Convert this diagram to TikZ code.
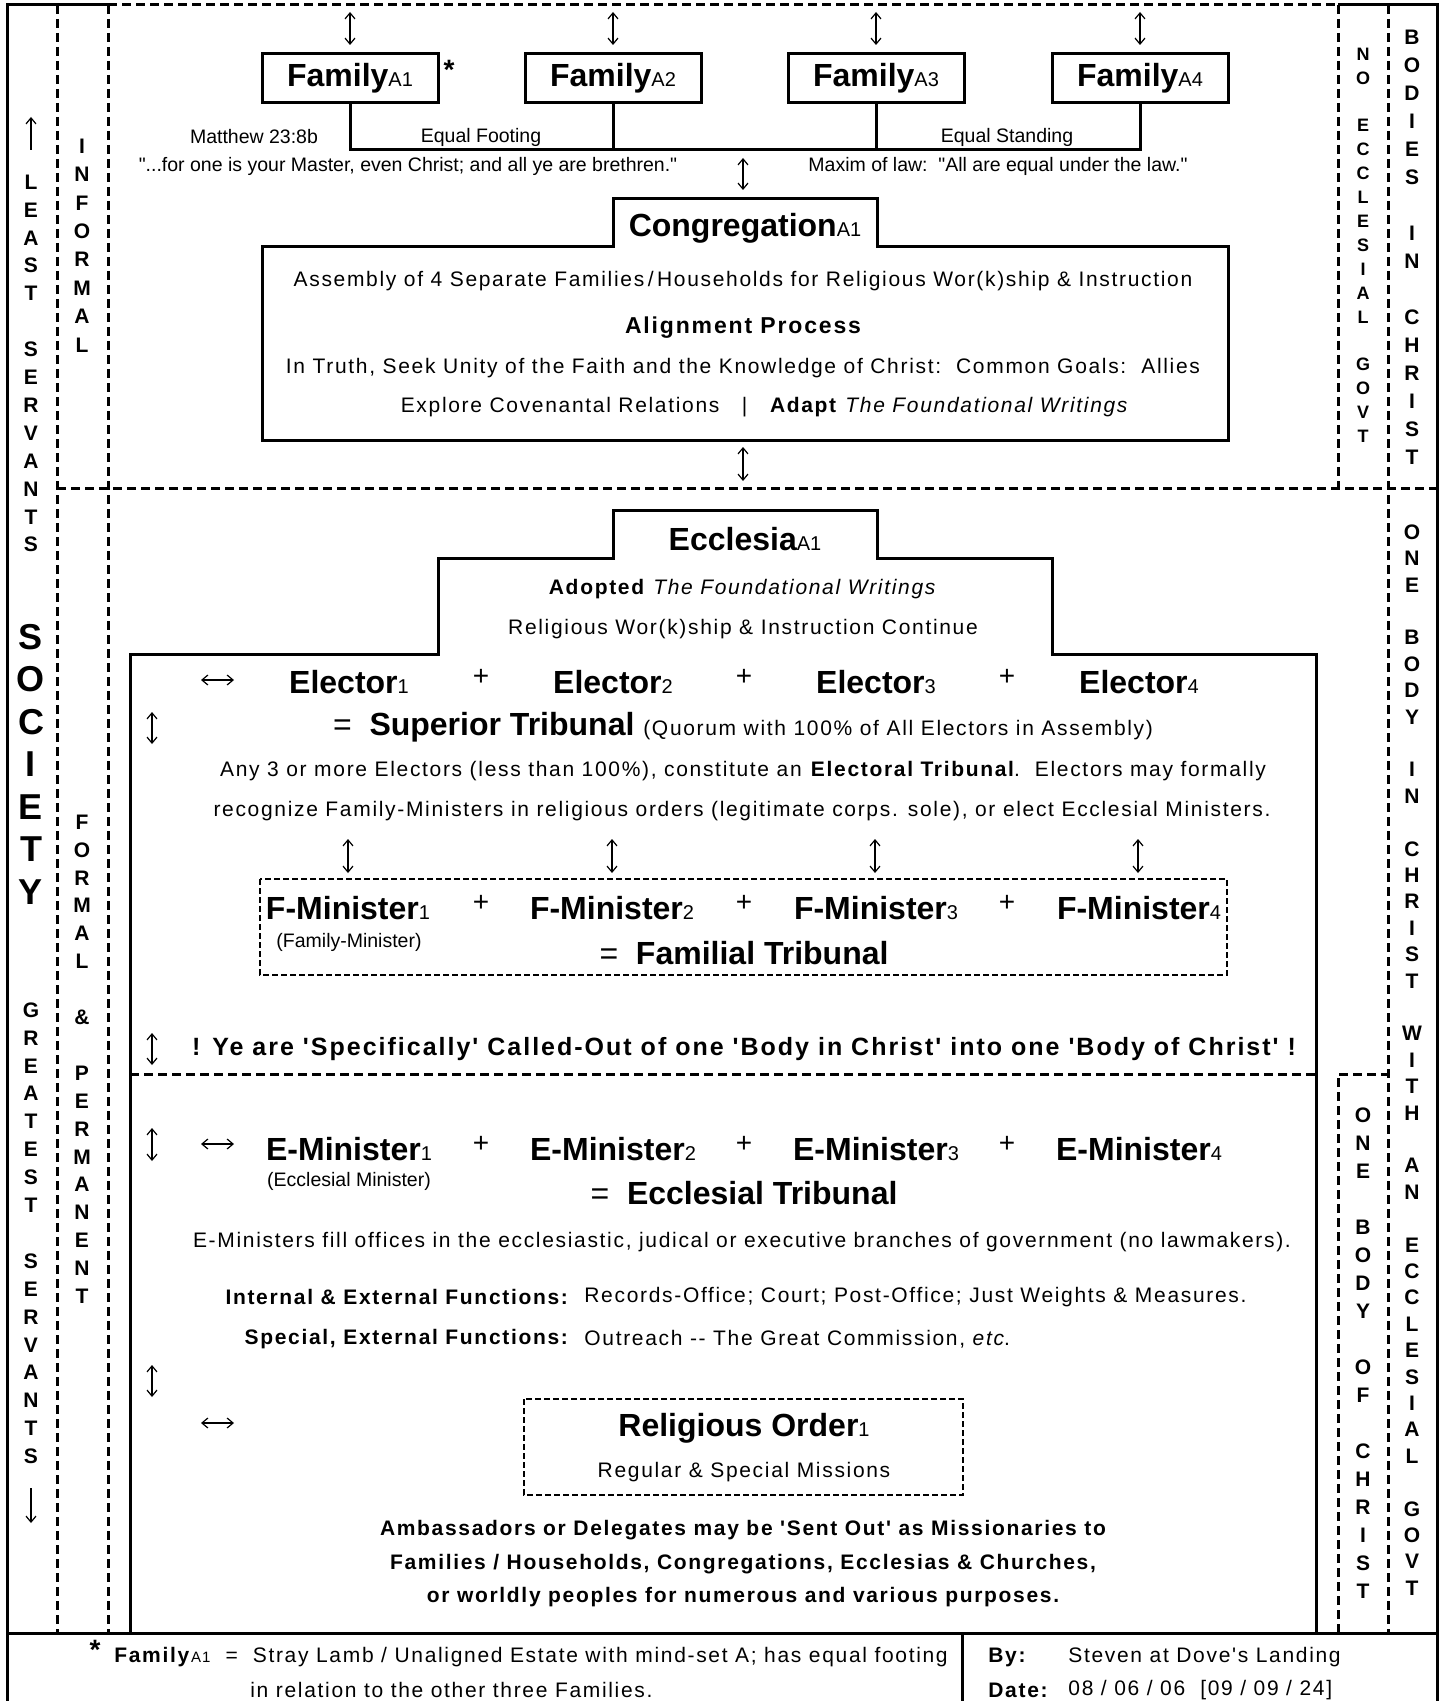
\documentclass[tikz,border=0pt]{standalone}
\usepackage{fontspec}
\setmainfont{Liberation Sans}[Ligatures=TeXOff]
\newfontfamily\wide{Liberation Sans}[LetterSpace=8,Ligatures=TeXOff]
\usetikzlibrary{calc,arrows.meta}
\tikzset{line/.style={draw, line width=1.5pt}}
\tikzset{dline/.style={draw, line width=1.5pt, dash pattern=on 4.5pt off 2.5pt}}
\tikzset{thindash/.style={draw, line width=0.6pt, dash pattern=on 3pt off 1.5pt}}
\tikzset{dbl/.style={draw, line width=0.6pt, {Straight Barb[length=3pt,width=5pt]}-{Straight Barb[length=3pt,width=5pt]}}}
\tikzset{sgl/.style={draw, line width=0.6pt, -{Straight Barb[length=3pt,width=5pt]}}}

\newcommand{\headfont}{\bfseries\fontsize{16}{19}\selectfont}
\newcommand{\bodyfont}{\wide\fontsize{10.5}{13}\selectfont}
\newcommand{\notefont}{\fontsize{9.75}{12}\selectfont}
\newcommand{\colfont}{\bfseries\fontsize{10.5}{13}\selectfont}
\newcommand{\smcolfont}{\bfseries\fontsize{9}{11}\selectfont}
\newcommand{\socfont}{\bfseries\fontsize{18}{21}\selectfont}
\newcommand{\subtxt}[1]{{\mdseries\fontsize{10}{12}\selectfont #1}}
% letters stacked in a column: name, x, first y, step, font, letters
\newcommand{\vword}[6]{\foreach \ch [count=\i from 0] in {#6} \node[vlet, font=#5] (#1\i) at (#2, #3+#4*\i) {\ch};}

\begin{document}
\begin{tikzpicture}[x=0.5pt, y=-0.5pt]
\tikzstyle{fambox} = [draw, line width=1.5pt, minimum width=88pt, minimum height=24.5pt, inner sep=0pt, font=\headfont]
\tikzstyle{head} = [font=\headfont]
\tikzstyle{body} = [font=\bodyfont]
\tikzstyle{note} = [font=\notefont]
\tikzstyle{plus} = [font=\fontsize{14}{16}\selectfont]
\tikzstyle{vlet} = [inner sep=0pt]
\tikzstyle{lft} = [font=\bodyfont, anchor=west, inner xsep=0pt]
\tikzstyle{rgt} = [font=\bodyfont, anchor=east, inner xsep=0pt]

\useasboundingbox (0,0) rectangle (1445,1701);

% frame and columns
\draw[line] (7,1701) -- (7,5) -- (108,5);
\draw[dline] (108,5) -- (1338,5);
\draw[line] (1338,5) -- (1437,5) -- (1437,1701);
\draw[dline] (57,5) -- (57,1633);
\draw[dline] (108,5) -- (108,1633);
\draw[dline] (1338,5) -- (1338,488);
\draw[dline] (1388,5) -- (1388,1633);
\draw[dline] (57,488) -- (1437,488);
\draw[dline] (1338,1633) -- (1338,1074) -- (1388,1074);
\draw[line] (7,1633) -- (1437,1633);
\draw[line] (962,1633) -- (962,1701);

\vword{ls}{31}{182}{27.9}{\colfont}{L,E,A,S,T,,S,E,R,V,A,N,T,S}
\vword{so}{31}{637}{42.5}{\socfont}{S,O,C,I,E,T,Y}
\vword{gs}{31}{1010}{27.9}{\colfont}{G,R,E,A,T,E,S,T,,S,E,R,V,A,N,T,S}
\vword{inf}{82}{146}{28.4}{\colfont}{I,N,F,O,R,M,A,L}
\vword{fp}{82}{822}{27.9}{\colfont}{F,O,R,M,A,L,,\&,,P,E,R,M,A,N,E,N,T}
\vword{no}{1363}{54}{23.9}{\smcolfont}{N,O,,E,C,C,L,E,S,I,A,L,,G,O,V,T}
\vword{bic}{1412}{37}{28}{\colfont}{B,O,D,I,E,S,,I,N,,C,H,R,I,S,T}
\vword{obc}{1363}{1115}{28}{\colfont}{O,N,E,,B,O,D,Y,,O,F,,C,H,R,I,S,T}
\vword{obw}{1412}{532}{26.4}{\colfont}{O,N,E,,B,O,D,Y,,I,N,,C,H,R,I,S,T,,W,I,T,H,,A,N,,E,C,C,L,E,S,I,A,L,,G,O,V,T}
\draw[sgl] (31,150) -- (31,117);
\draw[sgl] (31,1488) -- (31,1523);

% families
\node[fambox] (famA1) at (350,78) {Family\subtxt{A1}};
\node[fambox] (famA2) at (613,78) {Family\subtxt{A2}};
\node[fambox] (famA3) at (876,78) {Family\subtxt{A3}};
\node[fambox] (famA4) at (1140,78) {Family\subtxt{A4}};
\node[font=\bfseries\fontsize{14}{16}\selectfont] (star) at (449,70) {*};
\foreach \n in {A1,A2,A3,A4}
  \draw[dbl] ($(fam\n.north)+(0,-7)$) -- ($(fam\n.north)+(0,-40)$);

\coordinate (bus) at (0,150);
\draw[line] (famA1.south) -- (famA1.south|-bus) -- (famA4.south|-bus) -- (famA4.south);
\draw[line] (famA2.south) -- (famA2.south|-bus);
\draw[line] (famA3.south) -- (famA3.south|-bus);

\node[note] (matt) at (254,137) {Matthew 23:8b};
\node[note] (eqfoot) at (481,137) {Equal Footing};
\node[note] (eqstand) at (1007,137) {Equal Standing};
\node[note] (quote) at (408,166) {"...for one is your Master, even Christ; and all ye are brethren."};
\node[note] (maxim) at (998,166) {Maxim of law:~~"All are equal under the law."};
\draw[dbl] (743,158) -- (743,190);

% congregation
\draw[line] (262,247) -- (613,247) -- (613,199) -- (877,199) -- (877,247) -- (1228,247) -- (1228,440) -- (262,440) -- cycle;
\node[head] (cong) at (745,228) {Congregation\subtxt{A1}};
\node[body] (assem) at (743,281) {Assembly of 4 Separate Families\,/\,Households for Religious Wor(k)ship \& Instruction};
\node[body, font=\wide\bfseries\fontsize{11.5}{14}\selectfont] (align) at (743,328) {Alignment Process};
\node[body] (truth) at (743,368) {In Truth, Seek Unity of the Faith and the Knowledge of Christ:~~Common Goals:~~Allies};
\node[body] (explore) at (765,407) {Explore Covenantal Relations~~~|~~~\textbf{Adapt} \textit{The Foundational Writings}};
\draw[dbl] (743,447) -- (743,481);

% ecclesia
\draw[line] (130,1633) -- (130,654) -- (438,654) -- (438,558) -- (613,558) -- (613,510) -- (877,510) -- (877,558) -- (1052,558) -- (1052,654) -- (1316,654) -- (1316,1633);
\node[head] (eccl) at (745,539) {Ecclesia\subtxt{A1}};
\node[body] (adopt) at (743,589) {\textbf{Adopted} \textit{The Foundational Writings}};
\node[body] (cont) at (743,629) {Religious Wor(k)ship \& Instruction Continue};

\foreach \i/\x in {1/349,2/613,3/876,4/1139}
  \node[head] (el\i) at (\x,682) {Elector\subtxt{\i}};
\foreach \i/\x in {1/481,2/744,3/1007}
  \node[plus] (elp\i) at (\x,677) {+};
\draw[dbl] (201,680) -- (234,680);
\draw[dbl] (152,712) -- (152,744);
\node[head] (sup) at (743,727) {{\mdseries=}~~Superior Tribunal {\bodyfont\mdseries (Quorum with 100\% of All Electors in Assembly)}};
\node[body] (any) at (743,771) {Any 3 or more Electors (less than 100\%), constitute an \textbf{Electoral Tribunal}.~~Electors may formally};
\node[body] (recog) at (742,811) {recognize Family-Ministers in religious orders (legitimate corps. sole), or elect Ecclesial Ministers.};
\foreach \x in {348,612,875,1138}
  \draw[dbl] (\x,839) -- (\x,873);

% familial tribunal
\draw[thindash] (260,879) rectangle (1227,975);
\foreach \i/\x in {1/348,2/612,3/876,4/1139}
  \node[head] (fm\i) at (\x,908) {F-Minister\subtxt{\i}};
\foreach \i/\x in {1/481,2/744,3/1007}
  \node[plus] (fmp\i) at (\x,903) {+};
\node[note] (fmnote) at (349,942) {(Family-Minister)};
\node[head] (famtrib) at (744,953) {{\mdseries=}~~Familial Tribunal};
\draw[dbl] (152,1033) -- (152,1065);
\node[body, font=\wide\bfseries\fontsize{12.5}{15}\selectfont] (ye) at (744,1049) {! Ye are 'Specifically' Called-Out of one 'Body in Christ' into one 'Body of Christ' !};
\draw[dline] (130,1074) -- (1316,1074);

% ecclesial tribunal
\draw[dbl] (152,1128) -- (152,1161);
\draw[dbl] (201,1144) -- (234,1144);
\foreach \i/\x in {1/349,2/613,3/876,4/1139}
  \node[head] (em\i) at (\x,1149) {E-Minister\subtxt{\i}};
\foreach \i/\x in {1/481,2/744,3/1007}
  \node[plus] (emp\i) at (\x,1144) {+};
\node[note] (emnote) at (349,1181) {(Ecclesial Minister)};
\node[head] (ecctrib) at (744,1193) {{\mdseries=}~~Ecclesial Tribunal};
\node[body] (fill) at (742,1242) {E-Ministers fill offices in the ecclesiastic, judical or executive branches of government (no lawmakers).};
\node[rgt] (intl) at (570,1297) {\textbf{Internal \& External Functions:}};
\node[lft] (intr) at (584,1297) {Records-Office; Court; Post-Office; Just Weights \& Measures.};
\node[rgt] (spcl) at (570,1339) {\textbf{Special, External Functions:}};
\node[lft] (spcr) at (584,1339) {Outreach -- The Great Commission, \textit{etc}.};
\draw[dbl] (152,1365) -- (152,1397);
\draw[dbl] (201,1423) -- (234,1423);

\draw[thindash] (524,1399) rectangle (963,1495);
\node[head] (relord) at (744,1428) {Religious Order\subtxt{1}};
\node[body] (missions) at (744,1472) {Regular \& Special Missions};
\node[body, font=\bodyfont\bfseries] (amb1) at (743,1530) {Ambassadors or Delegates may be 'Sent Out' as Missionaries to};
\node[body, font=\bodyfont\bfseries] (amb2) at (743,1564) {Families / Households, Congregations, Ecclesias \& Churches,};
\node[body, font=\bodyfont\bfseries] (amb3) at (743,1597) {or worldly peoples for numerous and various purposes.};

% footer
\node[font=\bfseries\fontsize{14}{16}\selectfont] (fstar) at (95,1650) {*};
\node[lft] (fnote) at (114,1657) {\textbf{Family}{\fontsize{7.5}{9}\selectfont A1}~~=~~Stray Lamb / Unaligned Estate with mind-set A; has equal footing};
\node[lft] (fnote2) at (250,1690) {in relation to the other three Families.};
\node[lft] (by) at (988,1657) {\textbf{By:}};
\node[lft] (byv) at (1068,1657) {Steven at Dove's Landing};
\node[lft] (date) at (988,1690) {\textbf{Date:}};
\node[lft] (datev) at (1068,1690) {08 / 06 / 06~~[09 / 09 / 24]};

\end{tikzpicture}
\end{document}
